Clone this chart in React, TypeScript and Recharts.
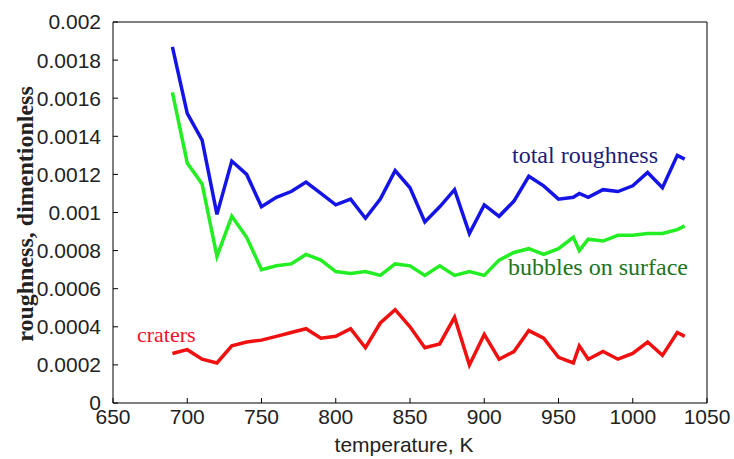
import { LineChart, Line, XAxis, YAxis } from "recharts";

const temps = [
  690, 700, 710, 720, 730, 740, 750, 760, 770, 780, 790, 800, 810, 820, 830,
  840, 850, 860, 870, 880, 890, 900, 910, 920, 930, 940, 950, 960, 964, 970,
  980, 990, 1000, 1010, 1020, 1030, 1035,
];

const totalRoughness = [
  0.00187, 0.00152, 0.00138, 0.00099, 0.00127, 0.0012, 0.00103, 0.00108,
  0.00111, 0.00116, 0.0011, 0.00104, 0.00107, 0.00097, 0.00107, 0.00122,
  0.00113, 0.00095, 0.00103, 0.00112, 0.00089, 0.00104, 0.00098, 0.00106,
  0.00119, 0.00114, 0.00107, 0.00108, 0.0011, 0.00108, 0.00112, 0.00111,
  0.00114, 0.00121, 0.00113, 0.0013, 0.00128,
];

const bubbles = [
  0.00163, 0.00126, 0.00115, 0.00077, 0.00098, 0.00087, 0.0007, 0.00072,
  0.00073, 0.00078, 0.00075, 0.00069, 0.00068, 0.00069, 0.00067, 0.00073,
  0.00072, 0.00067, 0.00072, 0.00067, 0.00069, 0.00067, 0.00075, 0.00079,
  0.00081, 0.00078, 0.00081, 0.00087, 0.0008, 0.00086, 0.00085, 0.00088,
  0.00088, 0.00089, 0.00089, 0.00091, 0.00093,
];

const craters = [
  0.00026, 0.00028, 0.00023, 0.00021, 0.0003, 0.00032, 0.00033, 0.00035,
  0.00037, 0.00039, 0.00034, 0.00035, 0.00039, 0.00029, 0.00042, 0.00049,
  0.0004, 0.00029, 0.00031, 0.00045, 0.0002, 0.00036, 0.00023, 0.00027,
  0.00038, 0.00034, 0.00024, 0.00021, 0.0003, 0.00023, 0.00027, 0.00023,
  0.00026, 0.00032, 0.00025, 0.00037, 0.00035,
];

const xTicks = [650, 700, 750, 800, 850, 900, 950, 1000, 1050];
const yTicks = [
  0, 0.0002, 0.0004, 0.0006, 0.0008, 0.001, 0.0012, 0.0014, 0.0016, 0.0018,
  0.002,
];

const data = temps.map((t, i) => ({
  t,
  total: totalRoughness[i],
  bubbles: bubbles[i],
  craters: craters[i],
}));

const tickFont = {
  fontFamily: "'Liberation Sans', Arial, sans-serif",
  fontSize: 21,
  fill: "#222",
};

const serif = "'Liberation Serif', 'Times New Roman', serif";

export default function App() {
  return (
    <div
      style={{
        position: "absolute",
        left: 0,
        top: 0,
        width: 734,
        height: 459,
        background: "#fff",
      }}
    >
      <LineChart
        width={734}
        height={459}
        data={data}
        margin={{ top: 21, right: 26, bottom: 0, left: 0 }}
      >
        <XAxis
          dataKey="t"
          type="number"
          domain={[650, 1050]}
          ticks={xTicks}
          tickSize={-5}
          tickMargin={11}
          stroke="#000"
          tick={tickFont}
          height={56}
        />
        <XAxis
          xAxisId="top"
          orientation="top"
          dataKey="t"
          type="number"
          domain={[650, 1050]}
          ticks={xTicks}
          tickSize={-5}
          tick={false}
          stroke="#000"
          height={1}
        />
        <YAxis
          domain={[0, 0.002]}
          ticks={yTicks}
          tickSize={-5}
          tickMargin={17}
          stroke="#000"
          tick={tickFont}
          width={113}
        />
        <YAxis
          yAxisId="right"
          orientation="right"
          domain={[0, 0.002]}
          ticks={yTicks}
          tickSize={-5}
          tick={false}
          stroke="#000"
          width={1}
        />
        <Line
          dataKey="total"
          stroke="#1414e6"
          strokeWidth={3.5}
          dot={false}
          isAnimationActive={false}
        />
        <Line
          dataKey="bubbles"
          stroke="#22ee22"
          strokeWidth={3.5}
          dot={false}
          isAnimationActive={false}
        />
        <Line
          dataKey="craters"
          stroke="#f01010"
          strokeWidth={3.5}
          dot={false}
          isAnimationActive={false}
        />
      </LineChart>

      {/* axis titles and annotations */}
      <div
        style={{
          position: "absolute",
          left: 25,
          top: 214,
          transform: "translate(-50%, -50%) rotate(-90deg)",
          whiteSpace: "nowrap",
          fontFamily: serif,
          fontWeight: "bold",
          fontSize: 24,
          color: "#222",
        }}
      >
        roughness, dimentionless
      </div>
      <div
        style={{
          position: "absolute",
          left: 404,
          top: 445,
          transform: "translate(-50%, -50%)",
          whiteSpace: "nowrap",
          fontFamily: tickFont.fontFamily,
          fontSize: 21,
          color: "#222",
        }}
      >
        temperature, K
      </div>
      <div
        style={{
          position: "absolute",
          left: 512,
          top: 142,
          whiteSpace: "nowrap",
          fontFamily: serif,
          fontSize: 24,
          color: "#1c1c78",
        }}
      >
        total roughness
      </div>
      <div
        style={{
          position: "absolute",
          left: 508,
          top: 254,
          whiteSpace: "nowrap",
          fontFamily: serif,
          fontSize: 24,
          color: "#227322",
        }}
      >
        bubbles on surface
      </div>
      <div
        style={{
          position: "absolute",
          left: 137,
          top: 322,
          whiteSpace: "nowrap",
          fontFamily: serif,
          fontSize: 22,
          color: "#f0102a",
        }}
      >
        craters
      </div>
    </div>
  );
}
